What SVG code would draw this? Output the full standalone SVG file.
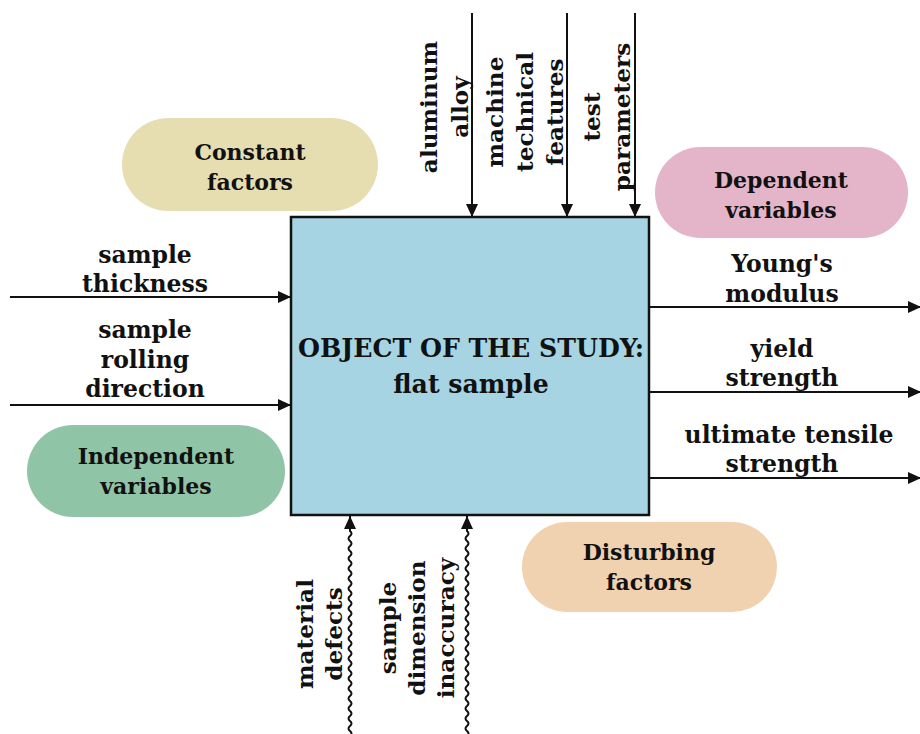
<svg xmlns="http://www.w3.org/2000/svg" width="920" height="734" viewBox="0 0 920 734">
<style>
text{font-family:"DejaVu Serif","Liberation Serif",serif;font-weight:bold;font-size:22px;fill:#111;text-anchor:middle}
.ttl{font-size:25.2px}
.lb{font-size:23.5px}
.rl{font-size:23.2px}
.ln{stroke:#111;stroke-width:2;fill:none}
</style>
<defs>
<marker id="ah" markerUnits="userSpaceOnUse" markerWidth="13" markerHeight="12" refX="13" refY="6" orient="auto">
<path d="M0,0 L13,6 L0,12 z" fill="#111"/>
</marker>
</defs>
<rect width="920" height="734" fill="#fff"/>

<g id="constant">
<rect x="122" y="118" width="256" height="93" rx="46.5" fill="#e6ddb0"/>
<text x="250" y="160">Constant</text><text x="250" y="190">factors</text>
</g>
<g id="dependent">
<rect x="655" y="147" width="253" height="91" rx="45.5" fill="#e4b5c9"/>
<text x="781" y="188">Dependent</text><text x="781" y="218">variables</text>
</g>
<g id="independent">
<rect x="27" y="425" width="258" height="92" rx="46" fill="#90c4a7"/>
<text x="156" y="464">Independent</text><text x="156" y="494">variables</text>
</g>
<g id="disturbing">
<rect x="522" y="522" width="255" height="90" rx="45" fill="#f0d2b0"/>
<text x="649" y="560">Disturbing</text><text x="649" y="590">factors</text>
</g>

<g id="object">
<rect x="291" y="217" width="358" height="298" fill="#a6d4e2" stroke="#111" stroke-width="2.5"/>
<text class="ttl" x="471" y="357">OBJECT OF THE STUDY:</text>
<text class="ttl" x="471" y="393">flat sample</text>
</g>

<g id="connectors">
<line class="ln" x1="472" y1="13" x2="472" y2="217" marker-end="url(#ah)"/>
<line class="ln" x1="567" y1="13" x2="567" y2="217" marker-end="url(#ah)"/>
<line class="ln" x1="635" y1="13" x2="635" y2="217" marker-end="url(#ah)"/>
<line class="ln" x1="10" y1="297" x2="291" y2="297" marker-end="url(#ah)"/>
<line class="ln" x1="10" y1="405" x2="291" y2="405" marker-end="url(#ah)"/>
<line class="ln" x1="649" y1="307" x2="921" y2="307" marker-end="url(#ah)"/>
<line class="ln" x1="649" y1="392" x2="921" y2="392" marker-end="url(#ah)"/>
<line class="ln" x1="649" y1="478" x2="921" y2="478" marker-end="url(#ah)"/>
<path class="ln" stroke-width="1.6" marker-end="url(#ah)" d="M350,736 q3,-2.5 0,-5 t0,-5 t0,-5 t0,-5 t0,-5 t0,-5 t0,-5 t0,-5 t0,-5 t0,-5 t0,-5 t0,-5 t0,-5 t0,-5 t0,-5 t0,-5 t0,-5 t0,-5 t0,-5 t0,-5 t0,-5 t0,-5 t0,-5 t0,-5 t0,-5 t0,-5 t0,-5 t0,-5 t0,-5 t0,-5 t0,-5 t0,-5 t0,-5 t0,-5 t0,-5 t0,-5 t0,-5 t0,-5 t0,-5 t0,-5 t0,-5 L350,516"/>
<path class="ln" stroke-width="1.6" marker-end="url(#ah)" d="M467,736 q3,-2.5 0,-5 t0,-5 t0,-5 t0,-5 t0,-5 t0,-5 t0,-5 t0,-5 t0,-5 t0,-5 t0,-5 t0,-5 t0,-5 t0,-5 t0,-5 t0,-5 t0,-5 t0,-5 t0,-5 t0,-5 t0,-5 t0,-5 t0,-5 t0,-5 t0,-5 t0,-5 t0,-5 t0,-5 t0,-5 t0,-5 t0,-5 t0,-5 t0,-5 t0,-5 t0,-5 t0,-5 t0,-5 t0,-5 t0,-5 t0,-5 t0,-5 L467,516"/>
</g>

<g id="labels">
<text class="lb" x="145" y="263">sample</text><text class="lb" x="145" y="292">thickness</text>
<text class="lb" x="145" y="338">sample</text><text class="lb" x="145" y="368">rolling</text><text class="lb" x="145" y="397">direction</text>
<text class="lb" x="782" y="272">Young's</text><text class="lb" x="782" y="302">modulus</text>
<text class="lb" x="782" y="357">yield</text><text class="lb" x="782" y="386">strength</text>
<text class="lb" x="789" y="443">ultimate tensile</text><text class="lb" x="782" y="472">strength</text>
<g transform="translate(437,107) rotate(-90)"><text class="rl" x="0" y="0">aluminum</text><text class="rl" x="0" y="31">alloy</text></g>
<g transform="translate(503,112) rotate(-90)"><text class="rl" x="0" y="0">machine</text><text class="rl" x="0" y="30">technical</text><text class="rl" x="0" y="60">features</text></g>
<g transform="translate(600,117) rotate(-90)"><text class="rl" x="0" y="0">test</text><text class="rl" x="0" y="30">parameters</text></g>
<g transform="translate(313,634) rotate(-90)"><text class="rl" x="0" y="0">material</text><text class="rl" x="0" y="29">defects</text></g>
<g transform="translate(396,628) rotate(-90)"><text class="rl" x="0" y="0">sample</text><text class="rl" x="0" y="29">dimension</text><text class="rl" x="0" y="58">inaccuracy</text></g>
</g>
</svg>
